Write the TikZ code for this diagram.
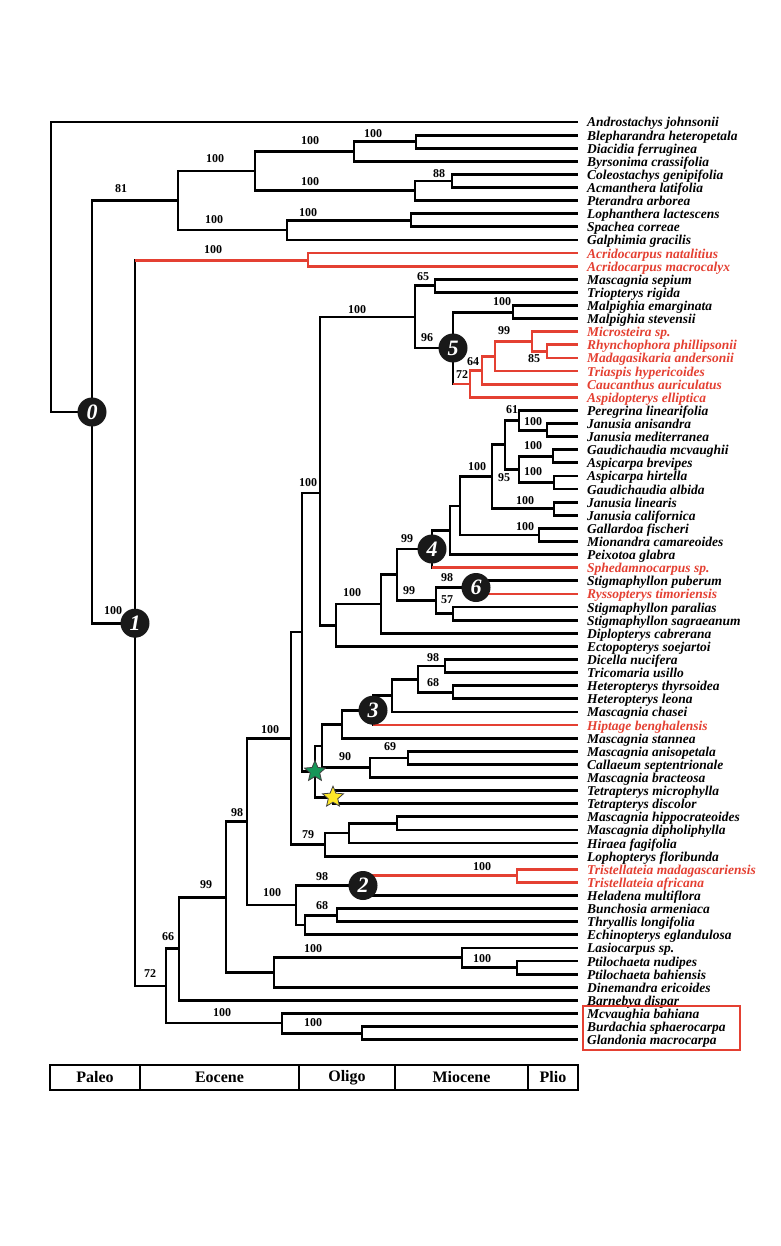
\documentclass[tikz,border=0pt]{standalone}
\usepackage{fontspec}
\setmainfont{Liberation Serif}
\usetikzlibrary{shapes.geometric}
\definecolor{madred}{RGB}{228,64,50}
\definecolor{stargreen}{RGB}{22,150,88}
\definecolor{staryellow}{RGB}{255,232,40}
\tikzstyle{branch}=[line width=2.8pt]
\tikzstyle{taxon}=[anchor=west,inner xsep=9pt,inner ysep=0pt,text height=10pt,text depth=0pt,font=\fontsize{13.5}{13}\selectfont\bfseries\itshape]
\tikzstyle{support}=[inner sep=0pt,font=\fontsize{12}{12}\selectfont\bfseries]
\tikzstyle{clade}=[circle,fill=black!90,text=white,minimum size=29pt,inner sep=0pt,font=\fontsize{22}{22}\selectfont\bfseries\itshape]
\tikzstyle{event}=[star,star points=5,star point ratio=2.2,minimum size=22pt,inner sep=0pt,draw=black!75,line width=0.8pt]
\tikzstyle{epoch}=[draw,line width=2.2pt,minimum height=25pt,inner sep=0pt,font=\fontsize{16}{16}\selectfont\bfseries]

\begin{document}
\begin{tikzpicture}[x=1pt,y=-1pt]
  \useasboundingbox (0,0) rectangle (780,1246);
  \def\xl{578}

  % tips
  \foreach \name/\col [count=\i] in {Androstachys johnsonii/black, Blepharandra heteropetala/black,
    Diacidia ferruginea/black, Byrsonima crassifolia/black, Coleostachys genipifolia/black,
    Acmanthera latifolia/black, Pterandra arborea/black, Lophanthera lactescens/black,
    Spachea correae/black, Galphimia gracilis/black, Acridocarpus natalitius/madred,
    Acridocarpus macrocalyx/madred, Mascagnia sepium/black, Triopterys rigida/black,
    Malpighia emarginata/black, Malpighia stevensii/black, Microsteira sp./madred,
    Rhynchophora phillipsonii/madred, Madagasikaria andersonii/madred, Triaspis hypericoides/madred,
    Caucanthus auriculatus/madred, Aspidopterys elliptica/madred, Peregrina linearifolia/black,
    Janusia anisandra/black, Janusia mediterranea/black, Gaudichaudia mcvaughii/black,
    Aspicarpa brevipes/black, Aspicarpa hirtella/black, Gaudichaudia albida/black,
    Janusia linearis/black, Janusia californica/black, Gallardoa fischeri/black,
    Mionandra camareoides/black, Peixotoa glabra/black, Sphedamnocarpus sp./madred,
    Stigmaphyllon puberum/black, Ryssopterys timoriensis/madred, Stigmaphyllon paralias/black,
    Stigmaphyllon sagraeanum/black, Diplopterys cabrerana/black, Ectopopterys soejartoi/black,
    Dicella nucifera/black, Tricomaria usillo/black, Heteropterys thyrsoidea/black,
    Heteropterys leona/black, Mascagnia chasei/black, Hiptage benghalensis/madred,
    Mascagnia stannea/black, Mascagnia anisopetala/black, Callaeum septentrionale/black,
    Mascagnia bracteosa/black, Tetrapterys microphylla/black, Tetrapterys discolor/black,
    Mascagnia hippocrateoides/black, Mascagnia dipholiphylla/black, Hiraea fagifolia/black,
    Lophopterys floribunda/black, Tristellateia madagascariensis/madred, Tristellateia africana/madred,
    Heladena multiflora/black, Bunchosia armeniaca/black, Thryallis longifolia/black,
    Echinopterys eglandulosa/black, Lasiocarpus sp./black, Ptilochaeta nudipes/black,
    Ptilochaeta bahiensis/black, Dinemandra ericoides/black, Barnebya dispar/black,
    Mcvaughia bahiana/black, Burdachia sphaerocarpa/black, Glandonia macrocarpa/black} {
    \pgfmathsetmacro{\y}{122+(\i-1)*13.11}
    \node[taxon,text=\col] (t\i) at (\xl,\y) {\name};
  }

  % internal nodes
  \coordinate (root) at (51,267);
  \coordinate (n0) at (92,412);
  \coordinate (nA) at (178,200.6);
  \coordinate (nB) at (255,171.1);
  \coordinate (nD) at (354,151.4);
  \coordinate (nF) at (416,141.8);
  \coordinate (nE) at (415,190.8);
  \coordinate (nG) at (452,181);
  \coordinate (nC) at (287,230.1);
  \coordinate (nH) at (411,220.3);
  \coordinate (n1) at (135,623.2);
  \coordinate (nAc) at (308,260.5);
  \coordinate (nK) at (166,985.9);
  \coordinate (nM) at (282,1023);
  \coordinate (nN) at (362,1033.3);
  \coordinate (nL) at (179,948.7);
  \coordinate (nO) at (226,897.1);
  \coordinate (nQ) at (274,972.6);
  \coordinate (nR) at (462,957.8);
  \coordinate (nS) at (517,967.7);
  \coordinate (nP) at (247,821.7);
  \coordinate (nU) at (296,905);
  \coordinate (n2) at (363,885.5);
  \coordinate (nW) at (517,875.7);
  \coordinate (nV) at (305,925);
  \coordinate (nX) at (337,915.1);
  \coordinate (nT) at (291,738.3);
  \coordinate (nZ) at (325,844.5);
  \coordinate (nZa) at (349,833);
  \coordinate (nZb) at (397,823.3);
  \coordinate (nY) at (302,632);
  \coordinate (nI) at (320,493);
  \coordinate (nGr) at (315,771.5);
  \coordinate (nYe) at (333,797.2);
  \coordinate (nJ) at (322,745.9);
  \coordinate (nJa) at (342,724.1);
  \coordinate (nJb) at (370,767.7);
  \coordinate (nJc) at (408,757.9);
  \coordinate (n3) at (373,710.2);
  \coordinate (n3a) at (392,695.4);
  \coordinate (n3b) at (418,679.1);
  \coordinate (n3c) at (445,666);
  \coordinate (n3d) at (453,692.2);
  \coordinate (n96) at (415,317);
  \coordinate (n65) at (435,285.9);
  \coordinate (n5) at (453,348);
  \coordinate (nMal) at (513,312.1);
  \coordinate (n72) at (470,383.9);
  \coordinate (n64) at (482,370.3);
  \coordinate (n99r) at (495,356.4);
  \coordinate (n99s) at (532,341.6);
  \coordinate (n85) at (547,351.5);
  \coordinate (nDip) at (336,625.2);
  \coordinate (nDa) at (381,604);
  \coordinate (nDb) at (397,574.8);
  \coordinate (nSt) at (436,600.6);
  \coordinate (n6) at (476,587.5);
  \coordinate (nSp) at (453,613.7);
  \coordinate (n4) at (432,549);
  \coordinate (n4a) at (450,530.2);
  \coordinate (n4b) at (460,505.9);
  \coordinate (n4c) at (492,476.7);
  \coordinate (n4d) at (539,535);
  \coordinate (n4e) at (505,444.7);
  \coordinate (n4f) at (554,508.8);
  \coordinate (n4g) at (519,420.2);
  \coordinate (n4h) at (519,469.4);
  \coordinate (n4i) at (547,430.1);
  \coordinate (n4j) at (553,456.3);
  \coordinate (n4k) at (554,482.5);

  % black branches
  \foreach \p/\c in {root/t1.west, root/n0, n0/nA, n0/n1, nA/nB, nA/nC, nB/nD, nB/nE,
    nD/nF, nD/t4.west, nF/t2.west, nF/t3.west, nE/nG, nE/t7.west, nG/t5.west, nG/t6.west,
    nC/nH, nC/t10.west, nH/t8.west, nH/t9.west, n1/nK, nK/nL, nK/nM, nM/t69.west, nM/nN,
    nN/t70.west, nN/t71.west, nL/nO, nL/t68.west, nO/nP, nO/nQ, nQ/nR, nQ/t67.west,
    nR/t64.west, nR/nS, nS/t65.west, nS/t66.west, nP/nT, nP/nU, nU/n2, nU/nV, n2/t60.west,
    nV/nX, nV/t63.west, nX/t61.west, nX/t62.west, nT/nY, nT/nZ, nZ/nZa, nZ/t57.west,
    nZa/nZb, nZa/t56.west, nZb/t54.west, nZb/t55.west, nY/nI, nY/nGr, nGr/nJ, nGr/nYe,
    nYe/t52.west, nYe/t53.west, nJ/nJa, nJ/nJb, nJb/nJc, nJb/t51.west, nJc/t49.west,
    nJc/t50.west, nJa/n3, nJa/t48.west, n3/n3a, n3a/n3b, n3a/t46.west, n3b/n3c, n3b/n3d,
    n3c/t42.west, n3c/t43.west, n3d/t44.west, n3d/t45.west, nI/n96, nI/nDip, n96/n65,
    n96/n5, n65/t13.west, n65/t14.west, n5/nMal, nMal/t15.west, nMal/t16.west, nDip/nDa,
    nDip/t41.west, nDa/nDb, nDa/t40.west, nDb/n4, nDb/nSt, nSt/n6, nSt/nSp, nSp/t38.west,
    nSp/t39.west, n6/t36.west, n4/n4a, n4a/n4b, n4a/t34.west, n4b/n4c, n4b/n4d,
    n4d/t32.west, n4d/t33.west, n4c/n4e, n4c/n4f, n4f/t30.west, n4f/t31.west, n4e/n4g,
    n4e/n4h, n4g/t23.west, n4g/n4i, n4i/t24.west, n4i/t25.west, n4h/n4j, n4h/n4k,
    n4j/t26.west, n4j/t27.west, n4k/t28.west, n4k/t29.west}
    \draw[branch] (\p) |- (\c);

  % black stem, red branch
  \foreach \p/\c in {n1/nAc, n5/n72, n4/t35.west, n6/t37.west, n3/t47.west, n2/nW} {
    \draw[branch,line cap=rect] (\p) -- (\p |- \c);
    \draw[branch,madred] (\p |- \c) -- (\c);
  }

  % red clades
  \foreach \p/\c in {nAc/t11.west, nAc/t12.west, n72/n64, n72/t22.west, n64/n99r,
    n64/t21.west, n99r/n99s, n99r/t20.west, n99s/t17.west, n99s/n85, n85/t18.west,
    n85/t19.west, nW/t58.west, nW/t59.west}
    \draw[branch,madred] (\p) |- (\c);

  \foreach \n in {0,...,6}
    \node[clade] (c\n) at (n\n) {\n};

  \node[event,fill=stargreen] (greenstar) at (nGr) {};
  \node[event,fill=staryellow] (yellowstar) at (nYe) {};

  % bootstrap values
  \foreach \x/\y/\v [count=\k] in {121/189/81, 215/159/100, 310/141/100, 373/134/100,
    310/182/100, 439/174/88, 214/220/100, 308/213/100, 213/250/100, 113/611/100,
    357/310/100, 423/277/65, 427/338/96, 502/302/100, 462/375/72, 473/362/64,
    504/331/99, 534/359/85, 512/410/61, 533/422/100, 533/446/100, 504/478/95,
    533/472/100, 477/467/100, 525/501/100, 525/527/100, 308/483/100, 407/539/99,
    352/593/100, 409/591/99, 447/578/98, 447/600/57, 433/658/98, 433/683/68,
    390/747/69, 345/757/90, 270/730/100, 308/835/79, 237/813/98, 272/893/100,
    322/877/98, 482/867/100, 322/906/68, 206/885/99, 313/949/100, 482/959/100,
    168/937/66, 150/974/72, 222/1013/100, 313/1023/100}
    \node[support] (bs\k) at (\x,\y) {\v};

  \node[draw=madred,line width=2pt,minimum width=157pt,minimum height=44pt] (mcvbox) at (661,1028) {};

  % time scale
  \foreach \a/\b/\ep in {50/140/Paleo, 140/299/Eocene, 299/395/Oligo, 395/528/Miocene, 528/578/Plio} {
    \pgfmathsetmacro{\w}{\b-\a}
    \node[epoch,minimum width=\w pt] (\ep) at ({(\a+\b)/2},1077.5) {\ep};
  }
\end{tikzpicture}
\end{document}
